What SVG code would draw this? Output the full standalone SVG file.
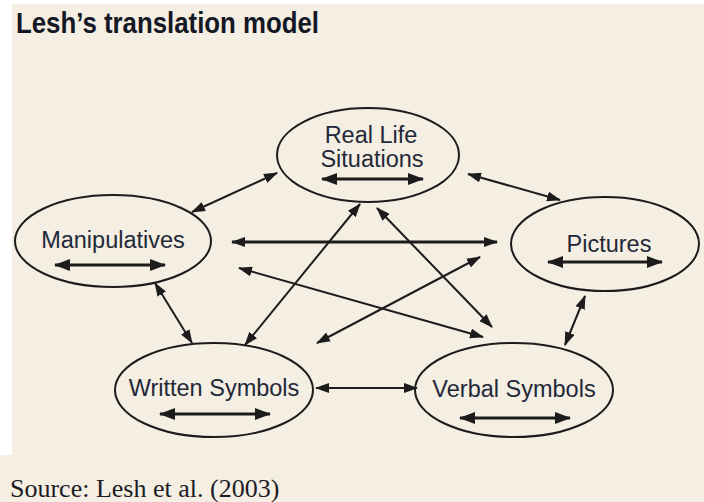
<svg xmlns="http://www.w3.org/2000/svg" width="704" height="502" viewBox="0 0 704 502">
  <defs>
    <marker id="head" viewBox="0 0 14 10" refX="13" refY="5" markerWidth="14" markerHeight="10" markerUnits="userSpaceOnUse" orient="auto-start-reverse">
      <path d="M0,0 L14,5 L0,10 z" fill="#1c1c1c"/>
    </marker>
    <marker id="headBig" viewBox="0 0 16 12" refX="15" refY="6" markerWidth="16" markerHeight="12" markerUnits="userSpaceOnUse" orient="auto-start-reverse">
      <path d="M0,0 L16,6 L0,12 z" fill="#1c1c1c"/>
    </marker>
    <style>
      .node ellipse { fill: none; stroke: #1c1c1c; stroke-width: 2; }
      .label { font-family: "Liberation Sans", Arial, sans-serif; font-size: 23.5px; fill: #232838; text-anchor: middle; }
      .inner { stroke: #1c1c1c; stroke-width: 3; marker-start: url(#headBig); marker-end: url(#headBig); }
      .link { stroke: #1c1c1c; stroke-width: 2; fill: none; marker-start: url(#head); marker-end: url(#head); }
      .link.thick { stroke-width: 3; }
      .title { font-family: "Liberation Sans", Arial, sans-serif; font-weight: bold; font-size: 30px; fill: #141824; }
      .source { font-family: "Liberation Serif", "Times New Roman", serif; font-size: 26px; fill: #1c1c24; }
    </style>
  </defs>

  <!-- page background -->
  <rect x="0" y="0" width="704" height="502" fill="#ffffff"/>
  <rect x="12" y="4" width="692" height="498" fill="#f4eee3"/>
  <rect x="0" y="455" width="12" height="47" fill="#f4eee3"/>

  <text class="title" x="16" y="33" textLength="303" lengthAdjust="spacingAndGlyphs">Lesh’s translation model</text>

  <g id="real-life" class="node">
    <ellipse cx="368" cy="155" rx="91" ry="47"/>
    <text class="label" x="371" y="143">Real Life</text>
    <text class="label" x="372" y="167">Situations</text>
    <line class="inner" x1="322" y1="179" x2="423" y2="179"/>
  </g>

  <g id="manipulatives" class="node">
    <ellipse cx="113" cy="241" rx="98" ry="46"/>
    <text class="label" x="113" y="248">Manipulatives</text>
    <line class="inner" x1="55" y1="265" x2="165" y2="265"/>
  </g>

  <g id="pictures" class="node">
    <ellipse cx="605" cy="244" rx="94" ry="47"/>
    <text class="label" x="609" y="252">Pictures</text>
    <line class="inner" x1="548" y1="262" x2="662" y2="262"/>
  </g>

  <g id="written-symbols" class="node">
    <ellipse cx="214" cy="390" rx="99" ry="47"/>
    <text class="label" x="214" y="396">Written Symbols</text>
    <line class="inner" x1="160" y1="414" x2="270" y2="414"/>
  </g>

  <g id="verbal-symbols" class="node">
    <ellipse cx="514" cy="390" rx="99" ry="47"/>
    <text class="label" x="514" y="397">Verbal Symbols</text>
    <line class="inner" x1="460" y1="418" x2="570" y2="418"/>
  </g>

  <g id="connectors">
    <line class="link" x1="192" y1="212" x2="277" y2="173"/>
    <line class="link" x1="468" y1="174" x2="560" y2="200"/>
    <line class="link thick" x1="232" y1="242" x2="497" y2="242"/>
    <line class="link" x1="239" y1="268" x2="483" y2="337"/>
    <line class="link" x1="360" y1="204" x2="245" y2="345"/>
    <line class="link" x1="377" y1="208" x2="492" y2="327"/>
    <line class="link" x1="480" y1="257" x2="317" y2="343"/>
    <line class="link" x1="155" y1="283" x2="192" y2="343"/>
    <line class="link" x1="585" y1="296" x2="565" y2="345"/>
    <line class="link" x1="316" y1="388" x2="417" y2="388"/>
  </g>

  <text class="source" x="10" y="497">Source: Lesh et al. (2003)</text>
</svg>
